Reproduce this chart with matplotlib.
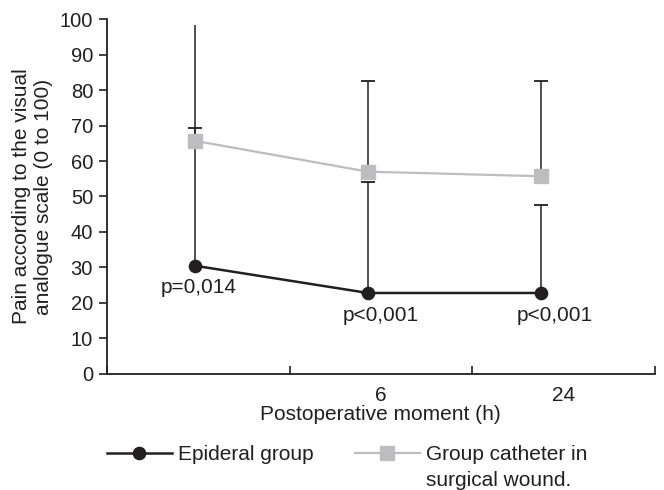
import matplotlib
matplotlib.use('Agg')
import matplotlib.pyplot as plt
import numpy as np

plt.rcParams['font.family'] = ['Liberation Sans', 'DejaVu Sans']

# data
moments = ['', '6', '24']
point_pos = [0.48, 1.43, 2.38]          # where the markers sit inside each category
epidural = [30.5, 22.8, 22.8]
epidural_upper = [98.3, 54.0, 47.6]
catheter = [65.7, 57.0, 55.7]
catheter_upper = [69.3, 82.6, 82.6]
p_values = ['p=0,014', 'p<0,001', 'p<0,001']

ink = '#231f20'
grey = '#bdbdc0'
fs = 15

fig = plt.figure(figsize=(6.64, 4.9), dpi=100)
ax = fig.add_axes([0.161, 0.237, 0.825, 0.724])

x = np.array(point_pos)
ep = np.array(epidural)
ca = np.array(catheter)
ep_err = [np.zeros(3), np.array(epidural_upper) - ep]
ca_err = [np.zeros(3), np.array(catheter_upper) - ca]

eb1 = ax.errorbar(x, ep, yerr=ep_err, fmt='none', ecolor=ink, elinewidth=1.1,
                  capsize=4.7, capthick=1.3, zorder=1)
# first epidural bar has no cap in the original
for cap in eb1[1]:
    cap.set_markevery([1, 2])
ax.errorbar(x, ca, yerr=ca_err, fmt='none', ecolor=ink, elinewidth=1.1,
            capsize=4.7, capthick=1.3, zorder=1)

ax.plot(x, ca, color=grey, lw=1.6, marker='s', ms=9.5, mec=grey, mfc=grey,
        zorder=3, label='Group catheter in')
ax.plot(x, ep, color=ink, lw=1.8, marker='o', ms=8.8, mec=ink, mfc=ink,
        zorder=4, label='Epideral group')

offsets = [(3, -16), (9, -16.5), (9.5, -16.5)]
for xi, yi, txt, off in zip(x, ep, p_values, offsets):
    ax.annotate(txt, (xi, yi), xytext=off, textcoords='offset points',
                ha='center', va='center', fontsize=fs, color=ink)

ax.set_xlim(0, 3)
ax.set_ylim(0, 100)
ax.set_yticks(np.arange(0, 101, 10))
ax.set_xticks([0, 1, 2, 3])
ax.set_xticklabels([])
ax.set_xticks([0.5, 1.5, 2.5], minor=True)
ax.set_xticklabels(moments, minor=True)
ax.tick_params(axis='x', which='minor', length=0, pad=9, labelsize=fs, labelcolor=ink)
ax.tick_params(axis='x', which='major', length=6, width=1.2, color=ink, direction='in')
ax.tick_params(axis='y', length=6, width=1.2, color=ink, labelsize=14.5, labelcolor=ink, pad=4)

for s in ['top', 'right']:
    ax.spines[s].set_visible(False)
for s in ['left', 'bottom']:
    ax.spines[s].set_color(ink)
    ax.spines[s].set_linewidth(1.3)

ax.set_xlabel('Postoperative moment (h)', fontsize=fs, color=ink, labelpad=0)
ax.set_ylabel('Pain according to the visual\nanalogue scale (0 to 100)', fontsize=fs,
              color=ink, labelpad=5, linespacing=1.15)

handles, labels = ax.get_legend_handles_labels()
leg = fig.legend(handles[::-1], labels[::-1], ncol=2, loc='center left',
                 bbox_to_anchor=(0.133, 0.072), frameon=False, fontsize=fs,
                 handlelength=3.1, handletextpad=0.3, columnspacing=2.0,
                 labelcolor=ink)

fig.canvas.draw()
t = leg.get_texts()[1]
bb = t.get_window_extent().transformed(fig.transFigure.inverted())
fig.text(bb.x0, bb.y0 - 0.013, 'surgical wound.', fontsize=fs, color=ink,
         ha='left', va='top')

fig.savefig('out.png', dpi=100)
